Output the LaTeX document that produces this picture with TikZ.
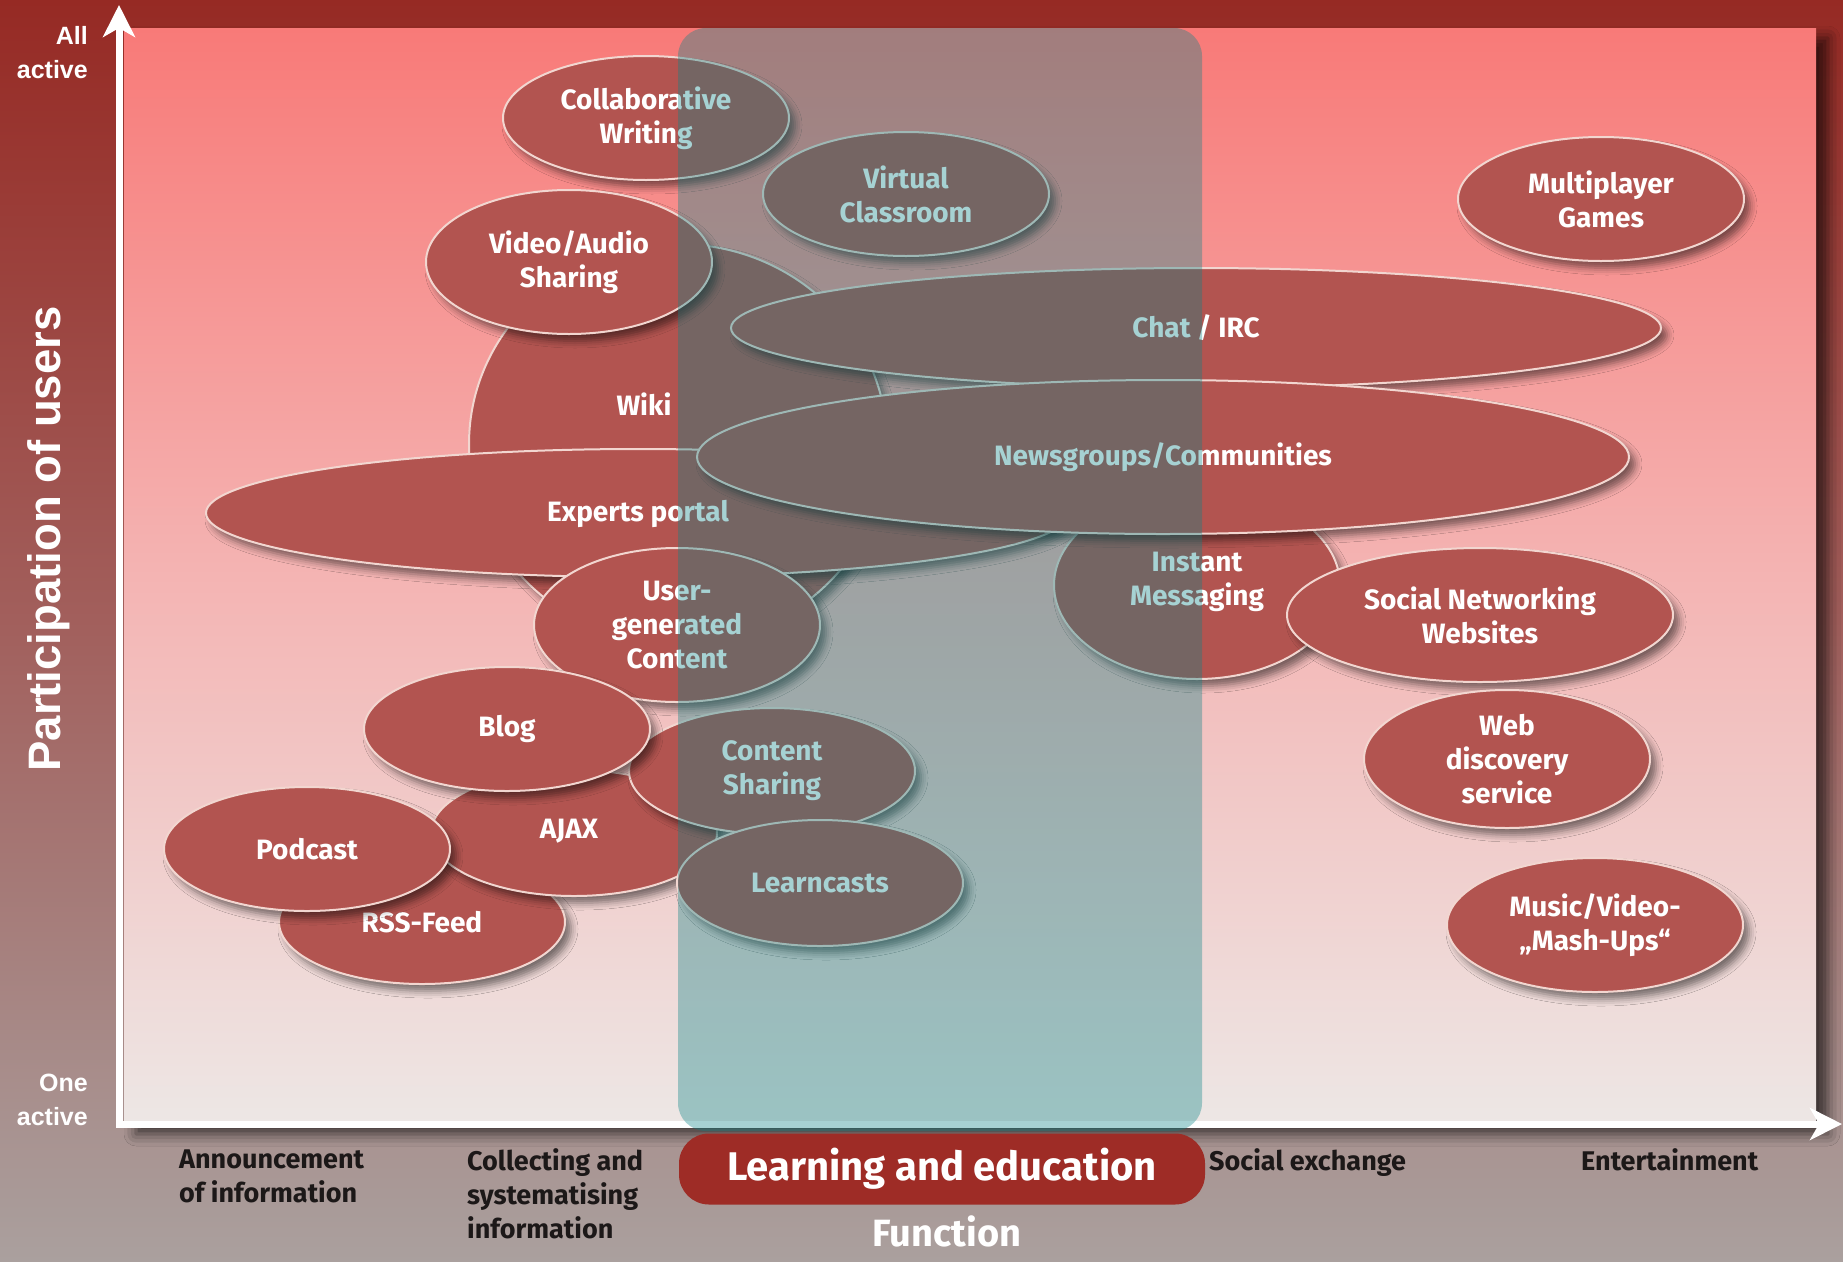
\documentclass[tikz,border=0pt]{standalone}
\usepackage{fontspec}
\setmainfont{Fira Sans}
\newfontfamily\arialfont{Liberation Sans}
\usetikzlibrary{shapes.geometric,arrows.meta,shadows.blur}

\definecolor{bgtop}{RGB}{150,42,36}
\definecolor{bgmid}{RGB}{162,96,93}
\definecolor{bgbot}{RGB}{170,160,158}
\definecolor{pltop}{RGB}{248,122,120}
\definecolor{plmid}{RGB}{244,180,179}
\definecolor{plbot}{RGB}{237,231,229}
\definecolor{ellfill}{RGB}{178,84,80}
\definecolor{ellline}{RGB}{242,214,208}
\definecolor{colteal}{RGB}{10,132,135}
\definecolor{boxred}{RGB}{158,44,38}
\definecolor{labdark}{RGB}{28,24,24}

\pgfdeclareverticalshading{bgshade}{100bp}{color(0bp)=(bgbot); color(25bp)=(bgbot); color(50bp)=(bgmid); color(75bp)=(bgtop); color(100bp)=(bgtop)}
\pgfdeclareverticalshading{plshade}{100bp}{color(0bp)=(plbot); color(25bp)=(plbot); color(50bp)=(plmid); color(75bp)=(pltop); color(100bp)=(pltop)}

\tikzset{
  ell/.style={ellipse, draw=ellline, line width=2pt, fill=ellfill, text=white,
    font=\bfseries\fontsize{28}{34}\selectfont, align=center, inner sep=0pt,
    blur shadow={shadow xshift=6pt, shadow yshift=-7pt, shadow blur radius=7pt, shadow opacity=50}},
  elltext/.style={text=white, font=\bfseries\fontsize{28}{34}\selectfont, align=center, inner sep=0pt},
  funclab/.style={text=labdark, font=\bfseries\fontsize{27}{34}\selectfont, align=left, inner sep=0pt, anchor=north west},
  axlab/.style={text=white, font=\arialfont\bfseries\fontsize{25}{34}\selectfont, align=right, inner sep=0pt, anchor=north east},
  axisline/.style={white, line width=7pt, line join=miter},
}

\begin{document}
\begin{tikzpicture}[x=1pt,y=-1pt]
\clip (0,0) rectangle (1843,1261);
% background
\path[shade, shading=bgshade] (0,0) rectangle (1843,1261);
% plot area
\path[shade, shading=plshade, blur shadow={shadow xshift=12pt, shadow yshift=-10pt, shadow blur radius=12pt, shadow opacity=65}] (124,28) rectangle (1816,1124);

% axes
\coordinate (origin) at (119,1124);
\coordinate (ytip) at (119,5);
\coordinate (xtip) at (1842,1124);
\draw[axisline, {Stealth[length=32pt,width=32pt,inset=9pt]}-{Stealth[length=32pt,width=32pt,inset=9pt]}] (ytip) -- (origin) -- (xtip);

% ellipses (back to front)
\node[ell, minimum width=418pt, minimum height=400pt] (wiki) at (678,444) {};
\node[ell, minimum width=286pt, minimum height=144pt] (video) at (569,262) {Video/Audio\\Sharing};
\node[ell, minimum width=286pt, minimum height=124pt] (collab) at (646,118) {Collaborative\\Writing};
\node[ell, minimum width=286pt, minimum height=124pt] (virtual) at (906,194) {Virtual\\Classroom};
\node[ell, minimum width=864pt, minimum height=128pt] (experts) at (638,513) {};
\node[elltext] (expertslab) at (638,514) {Experts portal};
\node[elltext] (wikilab) at (644,404) {Wiki};
\node[ell, minimum width=930pt, minimum height=120pt] (chat) at (1196,328) {Chat / IRC};
\node[ell, minimum width=286pt, minimum height=188pt] (im) at (1197,585) {};
\node[elltext] (imlab) at (1197,582) {Instant\\Messaging};
\node[ell, minimum width=932pt, minimum height=154pt] (news) at (1163,457) {Newsgroups/Communities};
\node[ell, minimum width=386pt, minimum height=134pt] (social) at (1480,615) {Social Networking\\Websites};
\node[ell, minimum width=286pt, minimum height=124pt] (multi) at (1601,199) {Multiplayer\\Games};
\node[ell, minimum width=286pt, minimum height=154pt] (ugc) at (677,625) {User-\\generated\\Content};
\node[ell, minimum width=286pt, minimum height=124pt] (rss) at (422,922) {RSS-Feed};
\node[ell, minimum width=286pt, minimum height=126pt] (ajax) at (574,833) {};
\node[elltext] (ajaxlab) at (569,831) {AJAX};
\node[ell, minimum width=286pt, minimum height=126pt] (cshare) at (772,771) {Content\\Sharing};
\node[ell, minimum width=286pt, minimum height=124pt] (blog) at (507,729) {Blog};
\node[ell, minimum width=286pt, minimum height=124pt] (podcast) at (307,849) {Podcast};
\node[ell, minimum width=286pt, minimum height=126pt] (learncasts) at (820,883) {Learncasts};
\node[ell, minimum width=286pt, minimum height=138pt] (web) at (1507,759) {Web\\discovery\\service};
\node[ell, minimum width=296pt, minimum height=134pt] (music) at (1595,925) {Music/Video-\\„Mash-Ups“};

% learning column overlay
\fill[colteal, opacity=0.36, rounded corners=28pt] (678,28) rectangle (1202,1131);

% learning box
\node[fill=boxred, rounded corners=30pt, minimum width=526pt, minimum height=71pt, inner sep=0pt,
      text=white, font=\bfseries\fontsize{40}{46}\selectfont] (learnbox) at (942,1169) {Learning and education};

% axis labels
\node[axlab] (allactive) at (88,26) {All\\active};
\node[axlab] (oneactive) at (88,1074) {One\\active};
\node[text=white, font=\arialfont\bfseries\fontsize{45.5}{50}\selectfont, rotate=90, inner sep=0pt] (ylab) at (49,539) {Participation of users};

% function labels
\node[funclab] (announce) at (179,1150) {Announcement\\of information};
\node[funclab] (collect) at (467,1148) {Collecting and\\systematising\\information};
\node[funclab] (social2) at (1209,1148) {Social exchange};
\node[funclab] (entertain) at (1581,1148) {Entertainment};
\node[text=white, font=\bfseries\fontsize{38}{44}\selectfont, anchor=base, inner sep=0pt] (function) at (947,1246) {Function};
\end{tikzpicture}
\end{document}
